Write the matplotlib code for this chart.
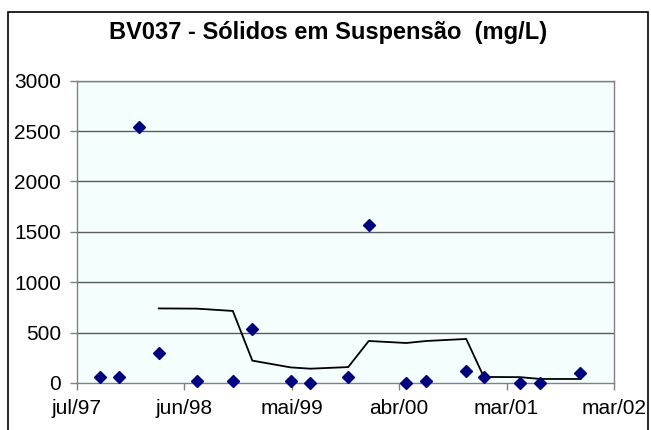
import matplotlib
matplotlib.use("Agg")
import matplotlib.pyplot as plt
import matplotlib.dates as mdates
import matplotlib.patches as patches
import pandas as pd

plt.rcParams['font.family'] = ['Liberation Sans', 'DejaVu Sans']

# Sampling dates and suspended solids (mg/L)
sample_dates = ["1997-09-11", "1997-11-08", "1998-01-09", "1998-03-13",
                "1998-07-09", "1998-10-30", "1998-12-30", "1999-04-28",
                "1999-06-29", "1999-10-25", "1999-12-28", "2000-04-23",
                "2000-06-25", "2000-10-27", "2000-12-21", "2001-04-13",
                "2001-06-15", "2001-10-18"]
solids = [62, 62, 2540, 300, 20, 20, 540, 20, 3, 62, 1570, 0, 20, 118, 58,
          0, 0, 102]

# Moving-average trend line (from the 4th sample on)
trend_dates = sample_dates[3:]
trend = [740, 738, 715, 222, 155, 142, 158, 417, 397, 417, 437, 60, 58, 40, 40]

tick_labels = ["jul/97", "jun/98", "mai/99", "abr/00", "mar/01", "mar/02"]
y_ticks = [0, 500, 1000, 1500, 2000, 2500, 3000]

W, H = 651, 430
fig = plt.figure(figsize=(W / 100, H / 100), dpi=100)
fig.patch.set_facecolor("white")

# Outer chart frame
fig.patches.append(patches.Rectangle((8 / W, -0.05), 640 / W, 1.05 - 12 / H,
                                     transform=fig.transFigure, fill=False,
                                     edgecolor="black", linewidth=1.2))

ax = fig.add_axes([77 / W, 1 - 383 / H, (614 - 77) / W, (383 - 80.7) / H])
ax.set_facecolor("#F4FEFE")

x0 = pd.Timestamp("1997-07-01")
step = pd.Timedelta(days=335)
tick_pos = [mdates.date2num(x0 + i * step) for i in range(len(tick_labels))]

sd = mdates.date2num(pd.to_datetime(sample_dates))
td = mdates.date2num(pd.to_datetime(trend_dates))

ax.set_xlim(tick_pos[0], tick_pos[-1])
ax.set_ylim(0, 3000)
ax.set_yticks(y_ticks)
ax.set_yticklabels([str(v) for v in y_ticks])
ax.set_xticks(tick_pos)
ax.set_xticklabels(tick_labels)

for v in y_ticks[1:]:
    ax.axhline(v, color="#5a5a5a", linewidth=1.0, zorder=1)

ax.plot(td, trend, color="black", linewidth=1.3, zorder=3)
ax.plot(sd, solids, linestyle="none", marker="D", markersize=6.2,
        color="#000080", zorder=4, clip_on=False)

for s in ax.spines.values():
    s.set_color("#808080")
    s.set_linewidth(1.0)

ax.tick_params(axis="both", direction="out", length=5, width=1.0,
               color="#808080", labelsize=15, labelcolor="black", pad=6.5)

fig.text(328 / W, 1 - 33 / H, "BV037 - Sólidos em Suspensão  (mg/L)",
         ha="center", va="center", fontsize=17, fontweight="bold")

fig.savefig("out.png", dpi=100)
